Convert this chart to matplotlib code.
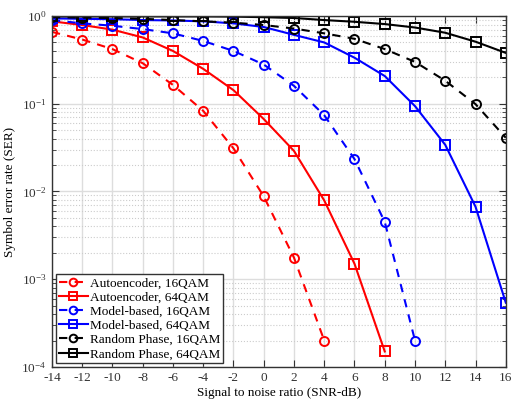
import matplotlib
matplotlib.use("Agg")
import matplotlib.pyplot as plt
from matplotlib.ticker import LogLocator, NullFormatter, FixedLocator

plt.rcParams['font.family'] = ['Liberation Serif', 'DejaVu Serif']
plt.rcParams['mathtext.fontset'] = 'stix'
plt.rcParams['axes.unicode_minus'] = False

snr = list(range(-14, 17, 2))

ae16_x = list(range(-14, 5, 2))
ae16 = [0.66, 0.54, 0.42, 0.29, 0.164, 0.083, 0.031, 0.0088, 0.00176, 2.0e-4]

ae64_x = list(range(-14, 9, 2))
ae64 = [0.87, 0.79, 0.70, 0.57, 0.40, 0.25, 0.143, 0.067, 0.029, 0.0079, 0.0015, 1.5e-4]

mb16_x = list(range(-14, 11, 2))
mb16 = [0.90, 0.825, 0.775, 0.71, 0.635, 0.52, 0.40, 0.28, 0.16, 0.074, 0.0234, 0.0045, 2.0e-4]

mb64_x = snr
mb64 = [0.94, 0.93, 0.92, 0.90, 0.89, 0.87, 0.825, 0.75, 0.61, 0.50, 0.335, 0.207, 0.094, 0.034, 0.0067, 5.4e-4]

rp16_x = snr
rp16 = [0.97, 0.96, 0.95, 0.93, 0.90, 0.87, 0.84, 0.79, 0.72, 0.635, 0.55, 0.42, 0.30, 0.183, 0.099, 0.041]

rp64_x = snr
rp64 = [0.99, 0.99, 0.99, 0.99, 0.99, 0.99, 0.985, 0.97, 0.95, 0.90, 0.86, 0.81, 0.74, 0.645, 0.51, 0.38]

labels = ['Autoencoder, 16QAM', 'Autoencoder, 64QAM', 'Model-based, 16QAM',
          'Model-based, 64QAM', 'Random Phase, 16QAM', 'Random Phase, 64QAM']

fig = plt.figure(figsize=(5.14, 4.01), dpi=100)
ax = fig.add_axes([0.101, 0.085, 0.883, 0.875])

series = [
    (ae16_x, ae16, 'red', '--', 'o'),
    (ae64_x, ae64, 'red', '-', 's'),
    (mb16_x, mb16, 'blue', '--', 'o'),
    (mb64_x, mb64, 'blue', '-', 's'),
    (rp16_x, rp16, 'black', '--', 'o'),
    (rp64_x, rp64, 'black', '-', 's'),
]
for (x, y, c, ls, m), lab in zip(series, labels):
    ax.semilogy(x, y, color=c, linestyle=ls, marker=m, markersize=6.5,
                markerfacecolor='none', markeredgewidth=1.4, linewidth=1.5,
                label=lab, dashes=(4, 3.5) if ls == '--' else (None, None))

ax.set_xlim(-14, 16)
ax.set_ylim(1e-4, 1)
ax.xaxis.set_major_locator(FixedLocator(list(range(-14, 17, 2))))
ax.yaxis.set_major_locator(LogLocator(base=10, numticks=10))
ax.yaxis.set_minor_locator(LogLocator(base=10, subs=[2, 3, 4, 5, 6, 7, 8, 9], numticks=10))
ax.yaxis.set_minor_formatter(NullFormatter())

ax.grid(True, which='major', color='#dddddd', linewidth=1.0)
ax.grid(True, which='minor', axis='y', color='#cccccc', linestyle=':', linewidth=0.8)
ax.set_axisbelow(True)

ax.tick_params(which='both', direction='in', top=True, right=True, labelsize=9.5, colors='#333333')
ax.tick_params(which='major', length=5, pad=4)
ax.tick_params(which='minor', length=3)
for sp in ax.spines.values():
    sp.set_color('#333333')
    sp.set_linewidth(1.0)

ax.set_xlabel('Signal to noise ratio (SNR-dB)', fontsize=9.5, labelpad=2)
ax.set_ylabel('Symbol error rate (SER)', fontsize=9.5, labelpad=4)

leg = ax.legend(loc='lower left', fontsize=9.5, handlelength=2.2, handletextpad=0.2,
                borderaxespad=0.3, borderpad=0.2, labelspacing=0.15, fancybox=False,
                edgecolor='#333333', framealpha=1, markerscale=0.85)
leg.get_frame().set_linewidth(1.0)

fig.savefig('out.png', dpi=100)
